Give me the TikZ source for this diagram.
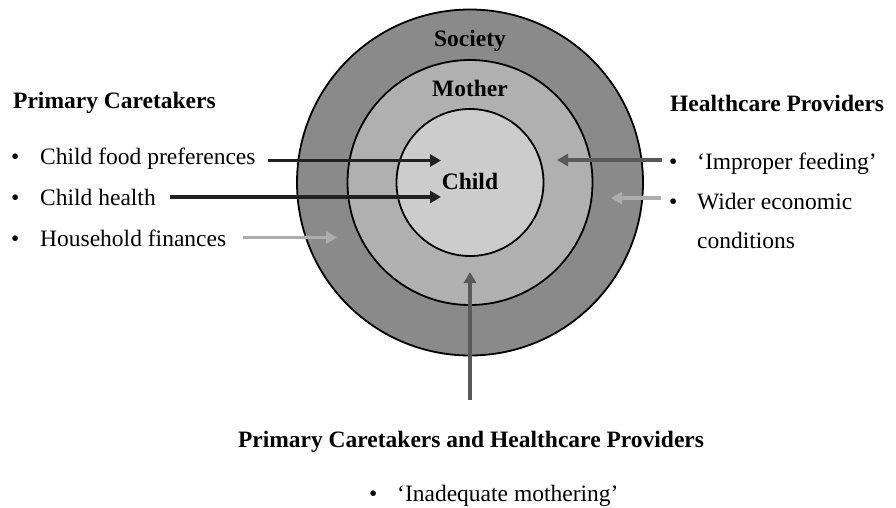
\documentclass[tikz,border=0pt]{standalone}
\usepackage{fontspec}
\setmainfont{Liberation Serif}
\usetikzlibrary{arrows.meta}
\definecolor{ringout}{gray}{0.54}
\definecolor{ringmid}{gray}{0.69}
\definecolor{ringin}{gray}{0.80}
\definecolor{arrdark}{gray}{0.13}
\definecolor{arrmid}{gray}{0.35}
\definecolor{arrlight}{gray}{0.68}
\tikzset{
  txt/.style={inner sep=0pt, anchor=base west, font=\fontsize{23.5}{28}\selectfont},
  head/.style={inner sep=0pt, anchor=base west, font=\fontsize{23.5}{28}\selectfont\bfseries},
  ctr/.style={inner sep=0pt, anchor=base, font=\fontsize{23.5}{28}\selectfont\bfseries},
  ring/.style={draw=black, line width=1.8pt},
  arr/.style={line width=3.4pt, -{Triangle[length=11pt,width=12pt]}},
}
\begin{document}
\begin{tikzpicture}[x=1pt,y=-1pt]
\useasboundingbox (0,0) rectangle (896,508);
% circles
\node[ring, circle, fill=ringout, minimum size=346pt, inner sep=0pt] (society) at (470,182.5) {};
\node[ring, circle, fill=ringmid, minimum size=245pt, inner sep=0pt] (mother) at (470,182.5) {};
\node[ring, circle, fill=ringin, minimum size=147pt, inner sep=0pt] (child) at (470,182.5) {};
\node[ctr] (lsoc) at (470,47) {Society};
\node[ctr] (lmot) at (470,97) {Mother};
\node[ctr] (lchi) at (470,189) {Child};
% left
\node[head] (pc) at (13,109) {Primary Caretakers};
\node[txt] (b1) at (11,164) {•};
\node[txt] (t1) at (40,164) {Child food preferences};
\node[txt] (b2) at (11,205) {•};
\node[txt] (t2) at (40,205) {Child health};
\node[txt] (b3) at (11,246) {•};
\node[txt] (t3) at (40,246) {Household finances};
% right
\node[head] (hp) at (670,112) {Healthcare Providers};
\node[txt] (b4) at (669,169) {•};
\node[txt] (t4) at (697,169) {‘Improper feeding’};
\node[txt] (b5) at (669,209) {•};
\node[txt] (t5) at (697,209) {Wider economic};
\node[txt] (t5b) at (697,248) {conditions};
% bottom
\node[ctr] (both) at (471,447) {Primary Caretakers and Healthcare Providers};
\node[txt] (b6) at (369,501) {•};
\node[txt] (t6) at (397,501) {‘Inadequate mothering’};
% arrow coordinates
\coordinate (s1) at (268,160.5);
\coordinate (e1) at (441,160.5);
\coordinate (s2) at (170,197);
\coordinate (e2) at (441,197);
\coordinate (s3) at (243,237.5);
\coordinate (e3) at (337,237.5);
\coordinate (s4) at (662,160);
\coordinate (e4) at (557,160);
\coordinate (s5) at (661,198);
\coordinate (e5) at (611,198);
\coordinate (s6) at (470,400);
\coordinate (e6) at (470,272);
\draw[arr, draw=arrdark, fill=arrdark] (s1) -- (e1);
\draw[arr, draw=arrdark, fill=arrdark] (s2) -- (e2);
\draw[arr, draw=arrlight, fill=arrlight] (s3) -- (e3);
\draw[arr, draw=arrmid, fill=arrmid] (s4) -- (e4);
\draw[arr, draw=arrlight, fill=arrlight] (s5) -- (e5);
\draw[arr, draw=arrmid, fill=arrmid] (s6) -- (e6);
\end{tikzpicture}
\end{document}
